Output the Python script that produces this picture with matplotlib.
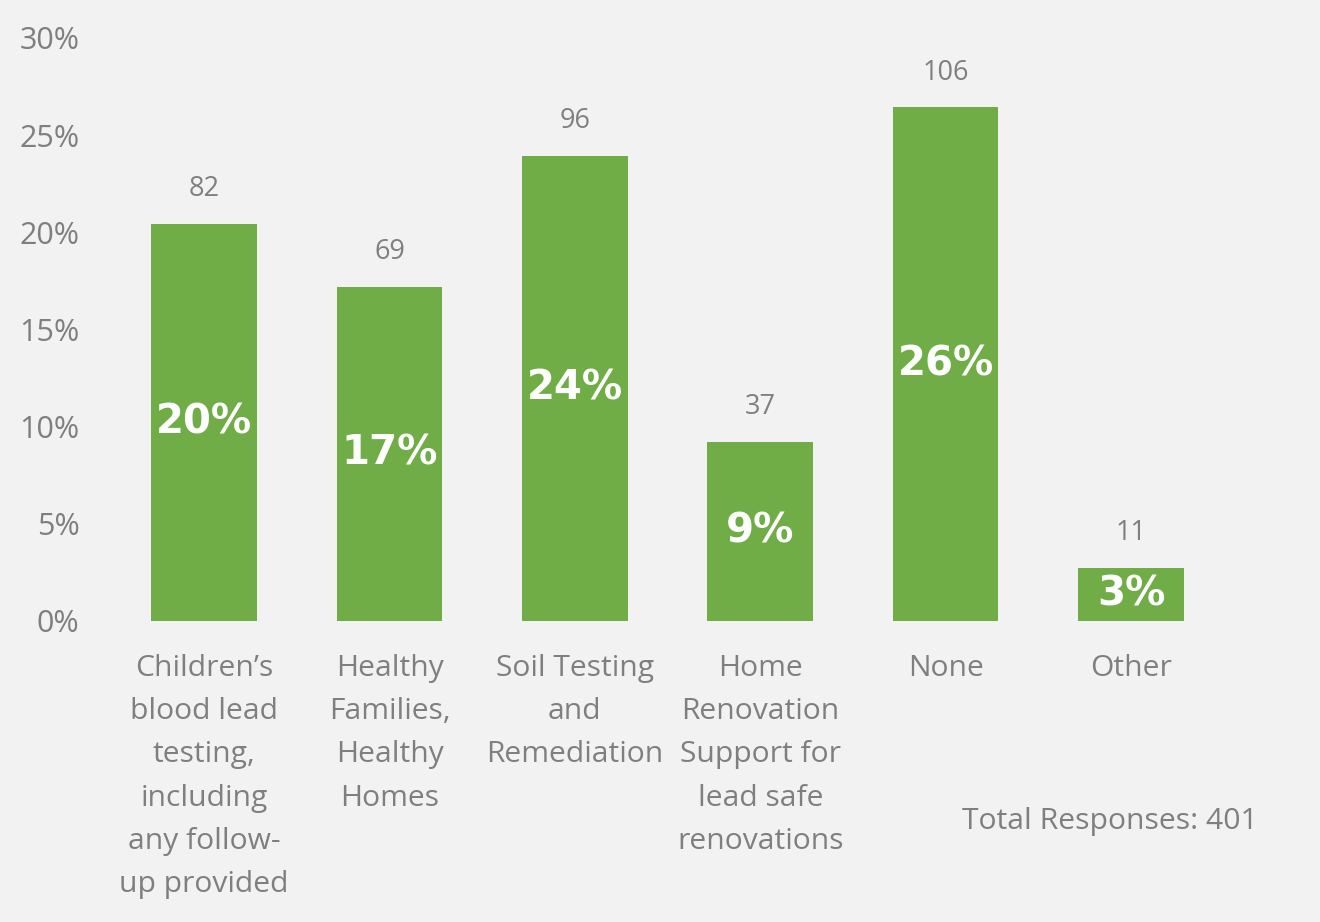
import numpy as np
import matplotlib.pyplot as plt
from matplotlib.ticker import FuncFormatter

categories = [
    "Children\u2019s\nblood lead\ntesting,\nincluding\nany follow-\nup provided",
    "Healthy\nFamilies,\nHealthy\nHomes",
    "Soil Testing\nand\nRemediation",
    "Home\nRenovation\nSupport for\nlead safe\nrenovations",
    "None",
    "Other",
]
counts = [82, 69, 96, 37, 106, 11]
total = 401

shares = [c / total * 100 for c in counts]

bg = "#f2f2f2"
green = "#70ad47"
grey = "#7f7f7f"

plt.rcParams["font.family"] = ["Open Sans", "DejaVu Sans"]

fig = plt.figure(figsize=(13.2, 9.22), dpi=100, facecolor=bg)
ax = fig.add_axes([0.0845, 0.3265, 0.8425, 0.6323])
ax.set_facecolor(bg)

x = np.arange(len(categories))
bars = ax.bar(x, shares, width=0.57, color=green)

ax.set_xlim(-0.5, len(categories) - 0.5)
ax.set_ylim(0, 30)
ax.set_yticks(np.arange(0, 31, 5))
ax.yaxis.set_major_formatter(FuncFormatter(lambda v, _: f"{v:.0f}%"))
ax.tick_params(axis="y", length=0, pad=23, labelsize=22, labelcolor=grey)
ax.set_xticks(x)
ax.set_xticklabels(categories, fontsize=21.6, color=grey, linespacing=1.64)
ax.tick_params(axis="x", length=0, pad=24)
for s in ax.spines.values():
    s.set_visible(False)

for xi, sh, c in zip(x, shares, counts):
    ax.text(xi, sh + 1.05, str(c), ha="center", va="bottom", fontsize=19.5, color=grey)
    ax.text(xi, sh / 2, f"{sh:.0f}%", ha="center", va="center", fontsize=29,
            color="white", fontweight="bold", family="DejaVu Sans")

fig.text(0.841, 0.1095, "Total Responses: 401", ha="center", va="center",
         fontsize=21.7, color=grey)

fig.savefig("out.png", dpi=100, facecolor=bg)
